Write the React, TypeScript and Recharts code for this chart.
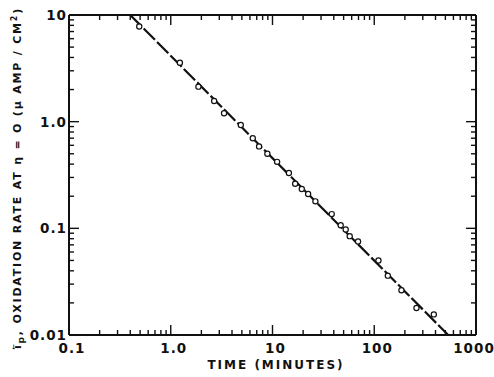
import { ScatterChart, Scatter, XAxis, YAxis } from 'recharts';

// measured points: time (minutes) vs oxidation rate (uA/cm2)
const times = [0.49, 1.23, 1.87, 2.67, 3.34, 4.88, 6.4, 7.38, 8.9, 11.1, 14.5, 16.7, 19.4, 22.4, 26.4, 38.2, 46.8, 52.4, 57.4, 69.3, 110, 136, 185, 260, 385];
const rates = [7.8, 3.57, 2.13, 1.56, 1.2, 0.93, 0.7, 0.586, 0.5, 0.42, 0.33, 0.262, 0.234, 0.21, 0.179, 0.136, 0.107, 0.0975, 0.0845, 0.0753, 0.05, 0.036, 0.0263, 0.0179, 0.0156];

// fitted straight line (end points)
const fitTimes = [0.4, 533];
const fitRates = [10, 0.01];

const xMajor = [0.1, 1, 10, 100, 1000];
const xLabels = ['0.1', '1.0', '10', '100', '1000'];
const yMajor = [0.01, 0.1, 1, 10];
const yLabels = ['0.01', '0.1', '1.0', '10'];

const points = times.map((t, i) => ({ t, rate: rates[i] }));
const fit = fitTimes.map((t, i) => ({ t, rate: fitRates[i] }));

const withMinors = (majors: number[]) => {
  const out: number[] = [];
  majors.forEach((m, i) => {
    out.push(m);
    if (i < majors.length - 1) {
      for (let k = 2; k <= 9; k++) out.push(+(m * k).toPrecision(3));
    }
  });
  return out;
};
const xTicks = withMinors(xMajor);
const yTicks = withMinors(yMajor);

const majorIndex = (v: number, majors: number[]) =>
  majors.findIndex((m) => Math.abs(m - v) / m < 1e-6);

const FONT = '"DejaVu Sans", sans-serif';
const MAJOR = 10;
const MINOR = 5;

const BottomTick = (props: any) => {
  const { x, y, payload } = props;
  const idx = majorIndex(payload.value, xMajor);
  const len = idx >= 0 ? MAJOR : MINOR;
  return (
    <g>
      <line x1={x} y1={y} x2={x} y2={y - len} stroke="#111" strokeWidth={1.4} />
      {idx >= 0 && (
        <text x={idx === 4 ? x - 2 : x + 3} y={y + 18} textAnchor="middle" fontFamily={FONT} fontWeight="bold" fontSize={13.5} letterSpacing={1} fill="#111">
          {xLabels[idx]}
        </text>
      )}
    </g>
  );
};

const TopTick = (props: any) => {
  const { x, y, payload } = props;
  const len = majorIndex(payload.value, xMajor) >= 0 ? MAJOR : MINOR;
  return <line x1={x} y1={y} x2={x} y2={y + len} stroke="#111" strokeWidth={1.4} />;
};

const LeftTick = (props: any) => {
  const { x, y, payload } = props;
  const idx = majorIndex(payload.value, yMajor);
  const len = idx >= 0 ? MAJOR : MINOR;
  return (
    <g>
      <line x1={x} y1={y} x2={x + len} y2={y} stroke="#111" strokeWidth={1.4} />
      {idx >= 0 && (
        <text x={x - 2} y={y + 5} textAnchor="end" fontFamily={FONT} fontWeight="bold" fontSize={13.5} letterSpacing={1} fill="#111">
          {yLabels[idx]}
        </text>
      )}
    </g>
  );
};

const RightTick = (props: any) => {
  const { x, y, payload } = props;
  const len = majorIndex(payload.value, yMajor) >= 0 ? MAJOR : MINOR;
  return <line x1={x} y1={y} x2={x - len} y2={y} stroke="#111" strokeWidth={1.4} />;
};

const OpenCircle = (props: any) => (
  <circle cx={props.cx} cy={props.cy} r={2.6} fill="#fff" stroke="#111" strokeWidth={1.2} />
);

const axisLine = { stroke: '#111', strokeWidth: 2 };

export default function App() {
  return (
    <div style={{ position: 'absolute', left: 0, top: 0, background: '#fff' }}>
      <ScatterChart width={494} height={377} margin={{ top: 14, right: 17, left: 0, bottom: 0 }}>
        <XAxis
          dataKey="t"
          type="number"
          scale="log"
          domain={[0.1, 1000]}
          allowDataOverflow
          ticks={xTicks}
          interval={0}
          tickSize={0}
          tickMargin={0}
          tick={<BottomTick />}
          axisLine={axisLine}
          height={42}
          label={{
            content: () => (
              <text x={276} y={369} textAnchor="middle" fontFamily={FONT} fontWeight="bold" fontSize={12} letterSpacing={2} fill="#111">
                TIME (MINUTES)
              </text>
            ),
          }}
        />
        <XAxis
          xAxisId="top"
          orientation="top"
          dataKey="t"
          type="number"
          scale="log"
          domain={[0.1, 1000]}
          allowDataOverflow
          ticks={xTicks}
          interval={0}
          tickSize={0}
          tickMargin={0}
          tick={<TopTick />}
          axisLine={axisLine}
          height={1}
        />
        <YAxis
          dataKey="rate"
          type="number"
          scale="log"
          domain={[0.01, 10]}
          allowDataOverflow
          ticks={yTicks}
          interval={0}
          tickSize={0}
          tickMargin={0}
          tick={<LeftTick />}
          axisLine={axisLine}
          width={69}
          label={{
            content: () => (
              <text
                transform="translate(21,178) rotate(-90)"
                textAnchor="middle"
                fontFamily={FONT}
                fontWeight="bold"
                fontSize={11}
                letterSpacing={1.8}
                fill="#111"
              >
                {'i\u20D6'}
                <tspan fontSize={9} dy={3}>p</tspan>
                <tspan dy={-3}>, OXIDATION RATE AT η = O (μ AMP / CM</tspan>
                <tspan fontSize={8} dy={-4}>2</tspan>
                <tspan dy={4}>)</tspan>
              </text>
            ),
          }}
        />
        <YAxis
          yAxisId="right"
          orientation="right"
          dataKey="rate"
          type="number"
          scale="log"
          domain={[0.01, 10]}
          allowDataOverflow
          ticks={yTicks}
          interval={0}
          tickSize={0}
          tickMargin={0}
          tick={<RightTick />}
          axisLine={axisLine}
          width={1}
        />
        <Scatter
          data={fit}
          line={{ stroke: '#111', strokeWidth: 2.2, strokeDasharray: '16 3' }}
          shape={() => null}
          isAnimationActive={false}
        />
        <Scatter data={points} shape={<OpenCircle />} isAnimationActive={false} />
        <Scatter xAxisId="top" yAxisId="right" data={points} shape={() => null} isAnimationActive={false} />
      </ScatterChart>
    </div>
  );
}
